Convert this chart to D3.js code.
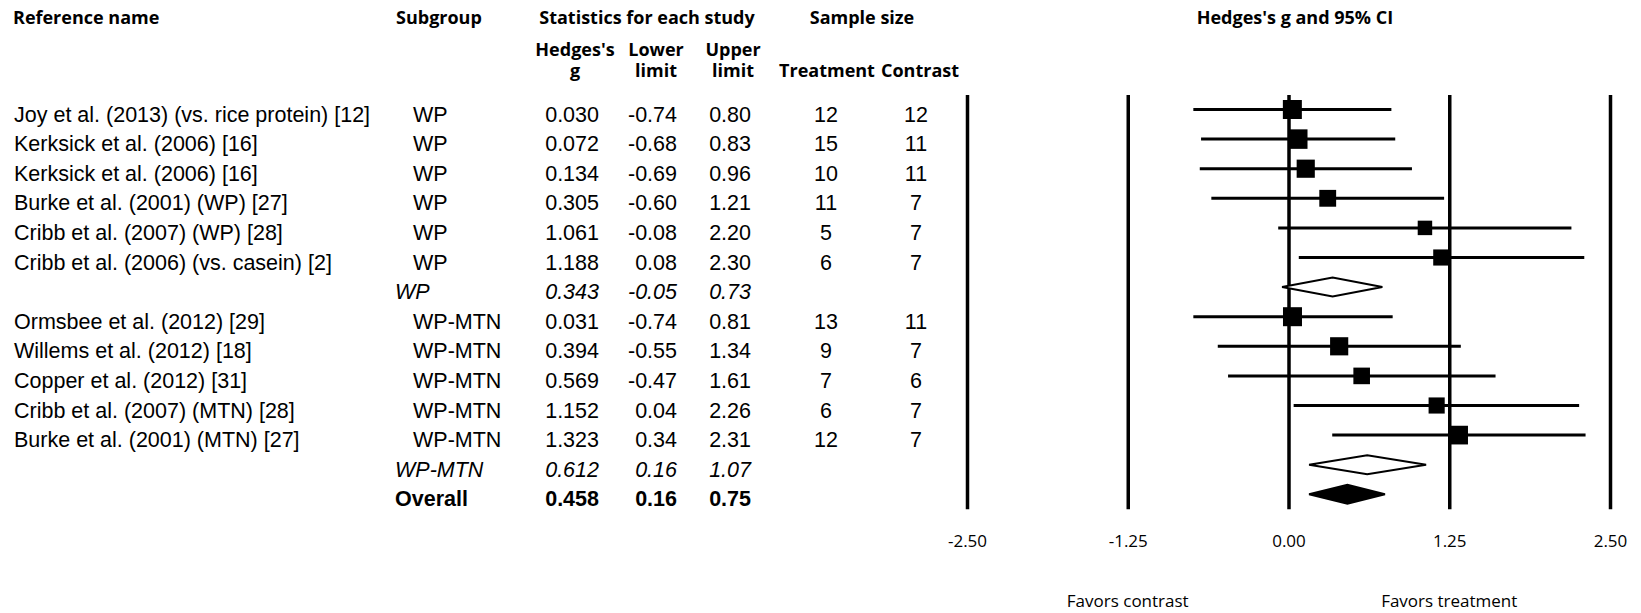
<!DOCTYPE HTML>
<html>
<head>
<meta charset="utf-8">
<title>Hedges's g forest plot</title>
<style>
  body { margin: 0; background: #fff; }
  svg text { fill: #000; }
  .head { font-family: "Open Sans", sans-serif; font-weight: 700; font-size: 18px; }
  .row { font-family: "Liberation Sans", Arial, sans-serif; font-size: 21.5px; }
  .sub { font-style: italic; }
  .overall { font-weight: 700; }
  .axis text, .favor { font-family: "Open Sans", sans-serif; font-size: 17px; }
</style>
</head>

<body>
<div id="chart"></div>

<script src="https://cdnjs.cloudflare.com/ajax/libs/d3/7.8.5/d3.min.js"></script>
<script>
// study rows
var studies = ["Joy et al. (2013) (vs. rice protein) [12]", "Kerksick et al. (2006) [16]",
               "Kerksick et al. (2006) [16]", "Burke et al. (2001) (WP) [27]",
               "Cribb et al. (2007) (WP) [28]", "Cribb et al. (2006) (vs. casein) [2]",
               "Ormsbee et al. (2012) [29]", "Willems et al. (2012) [18]",
               "Copper et al. (2012) [31]", "Cribb et al. (2007) (MTN) [28]",
               "Burke et al. (2001) (MTN) [27]"];
var subgroups = ["WP", "WP", "WP", "WP", "WP", "WP",
                 "WP-MTN", "WP-MTN", "WP-MTN", "WP-MTN", "WP-MTN"];
var hedges = [0.030, 0.072, 0.134, 0.305, 1.061, 1.188, 0.031, 0.394, 0.569, 1.152, 1.323];
var lower  = [-0.74, -0.68, -0.69, -0.60, -0.08, 0.08, -0.74, -0.55, -0.47, 0.04, 0.34];
var upper  = [0.80, 0.83, 0.96, 1.21, 2.20, 2.30, 0.81, 1.34, 1.61, 2.26, 2.31];
var nTreatment = [12, 15, 10, 11, 5, 6, 13, 9, 7, 6, 12];
var nContrast  = [12, 11, 11, 7, 7, 7, 11, 7, 6, 7, 7];
// relative weights
var weights = [9.3, 9.8, 8.5, 7.3, 5.4, 6.7, 9.3, 8.5, 7.1, 6.7, 9.0];

// summary rows
var summaryLabels = ["WP", "WP-MTN", "Overall"];
var summaryG      = [0.343, 0.612, 0.458];
var summaryLower  = [-0.05, 0.16, 0.16];
var summaryUpper  = [0.73, 1.07, 0.75];

var axisTicks = [-2.50, -1.25, 0.00, 1.25, 2.50];
var favorLabels = ["Favors contrast", "Favors treatment"];

// row order: WP studies, WP summary, WP-MTN studies, WP-MTN summary, overall
var rows = [];
studies.forEach(function(s, i){
	rows.push({type: "study", name: s, sub: subgroups[i], g: hedges[i], lo: lower[i], hi: upper[i],
	           nt: nTreatment[i], nc: nContrast[i], w: weights[i]});
	if (i == 5) rows.push({type: "summary", idx: 0});
});
rows.push({type: "summary", idx: 1});
rows.push({type: "overall", idx: 2});
rows.forEach(function(r, i){
	r.row = i;
	if (r.type != "study") {
		r.sub = summaryLabels[r.idx]; r.g = summaryG[r.idx];
		r.lo = summaryLower[r.idx]; r.hi = summaryUpper[r.idx];
	}
});

var loc = d3.formatLocale({decimal: ".", thousands: ",", grouping: [3], currency: ["", ""], minus: "-"});
var f3 = loc.format(".3f"), f2 = loc.format(".2f");

var svg = d3.select("#chart").append("svg")
	.attr("width", 1641).attr("height", 613);

var x = d3.scaleLinear().domain([-2.5, 2.5]).range([967, 1610]);
var y = d3.scaleLinear().domain([0, rows.length - 1]).range([109.5, 494.3]);
var box = d3.scaleSqrt().domain([0, d3.max(weights)]).range([0, 19.5]);

// headers
var head = svg.append("g").attr("class", "head");
head.append("text").attr("x", 13).attr("y", 24).text("Reference name");
head.append("text").attr("x", 396).attr("y", 24).text("Subgroup");
head.append("text").attr("x", 647).attr("y", 24).attr("text-anchor", "middle").text("Statistics for each study");
head.append("text").attr("x", 862).attr("y", 24).attr("text-anchor", "middle").text("Sample size");
head.append("text").attr("x", x(0.05)).attr("y", 24).attr("text-anchor", "middle").text("Hedges's g and 95% CI");
[["Hedges's", "g", 575], ["Lower", "limit", 656], ["Upper", "limit", 733]].forEach(function(h){
	var t = head.append("text").attr("text-anchor", "middle");
	t.append("tspan").attr("x", h[2]).attr("y", 56).text(h[0]);
	t.append("tspan").attr("x", h[2]).attr("y", 77).text(h[1]);
});
head.append("text").attr("x", 827).attr("y", 77).attr("text-anchor", "middle").text("Treatment");
head.append("text").attr("x", 920).attr("y", 77).attr("text-anchor", "middle").text("Contrast");

// table rows
var tr = svg.append("g").selectAll("g")
	.data(rows).enter().append("g")
	.attr("class", function(d){ return "row" + (d.type == "summary" ? " sub" : d.type == "overall" ? " overall" : ""); })
	.attr("transform", function(d){ return "translate(0," + (y(d.row) + 12) + ")"; });

var studyText = tr.filter(function(d){ return d.type == "study"; });
studyText.append("text").attr("x", 14).text(function(d){ return d.name; });
tr.append("text").attr("x", function(d){ return d.type == "study" ? 413 : 395; }).text(function(d){ return d.sub; });
tr.append("text").attr("x", 599).attr("text-anchor", "end").text(function(d){ return f3(d.g); });
tr.append("text").attr("x", 677).attr("text-anchor", "end").text(function(d){ return f2(d.lo); });
tr.append("text").attr("x", 751).attr("text-anchor", "end").text(function(d){ return f2(d.hi); });
studyText.append("text").attr("x", 826).attr("text-anchor", "middle").text(function(d){ return d.nt; });
studyText.append("text").attr("x", 916).attr("text-anchor", "middle").text(function(d){ return d.nc; });

// vertical reference lines + tick labels
var axisY = y.range()[1] + 15;
var axis = d3.axisBottom(x).tickValues(axisTicks).tickFormat(f2)
	.tickSizeInner(-(axisY - 95)).tickSizeOuter(0).tickPadding(26);
var ag = svg.append("g").attr("class", "axis")
	.attr("transform", "translate(0," + axisY + ")")
	.call(axis);
ag.select(".domain").remove();
ag.selectAll("line").attr("stroke", "#000").attr("stroke-width", 3.5);
ag.selectAll("text").attr("fill", "#000");

svg.selectAll(".favor").data(favorLabels).enter().append("text")
	.attr("class", "favor")
	.attr("x", function(d, i){ return x(i == 0 ? -1.25 : 1.25); })
	.attr("y", 607).attr("text-anchor", "middle")
	.text(function(d){ return d; });

// confidence intervals and boxes
var plot = svg.append("g");
var studyRows = rows.filter(function(d){ return d.type == "study"; });
plot.selectAll(".ci").data(studyRows).enter().append("line")
	.attr("x1", function(d){ return x(d.lo); })
	.attr("x2", function(d){ return x(d.hi); })
	.attr("y1", function(d){ return y(d.row); })
	.attr("y2", function(d){ return y(d.row); })
	.attr("stroke", "#000").attr("stroke-width", 3);
plot.selectAll(".box").data(studyRows).enter().append("rect")
	.attr("x", function(d){ return x(d.g) - box(d.w) / 2; })
	.attr("y", function(d){ return y(d.row) - box(d.w) / 2; })
	.attr("width", function(d){ return box(d.w); })
	.attr("height", function(d){ return box(d.w); })
	.attr("fill", "#000");

// diamonds
var dh = 9.5;
plot.selectAll(".diamond").data(rows.filter(function(d){ return d.type != "study"; })).enter().append("path")
	.attr("d", function(d){
		var cy = y(d.row);
		return "M" + x(d.lo) + "," + cy + "L" + x(d.g) + "," + (cy - dh) +
		       "L" + x(d.hi) + "," + cy + "L" + x(d.g) + "," + (cy + dh) + "Z";
	})
	.attr("fill", function(d){ return d.type == "overall" ? "#000" : "#fff"; })
	.attr("stroke", "#000").attr("stroke-width", 2);
</script>
</body>
</html>
